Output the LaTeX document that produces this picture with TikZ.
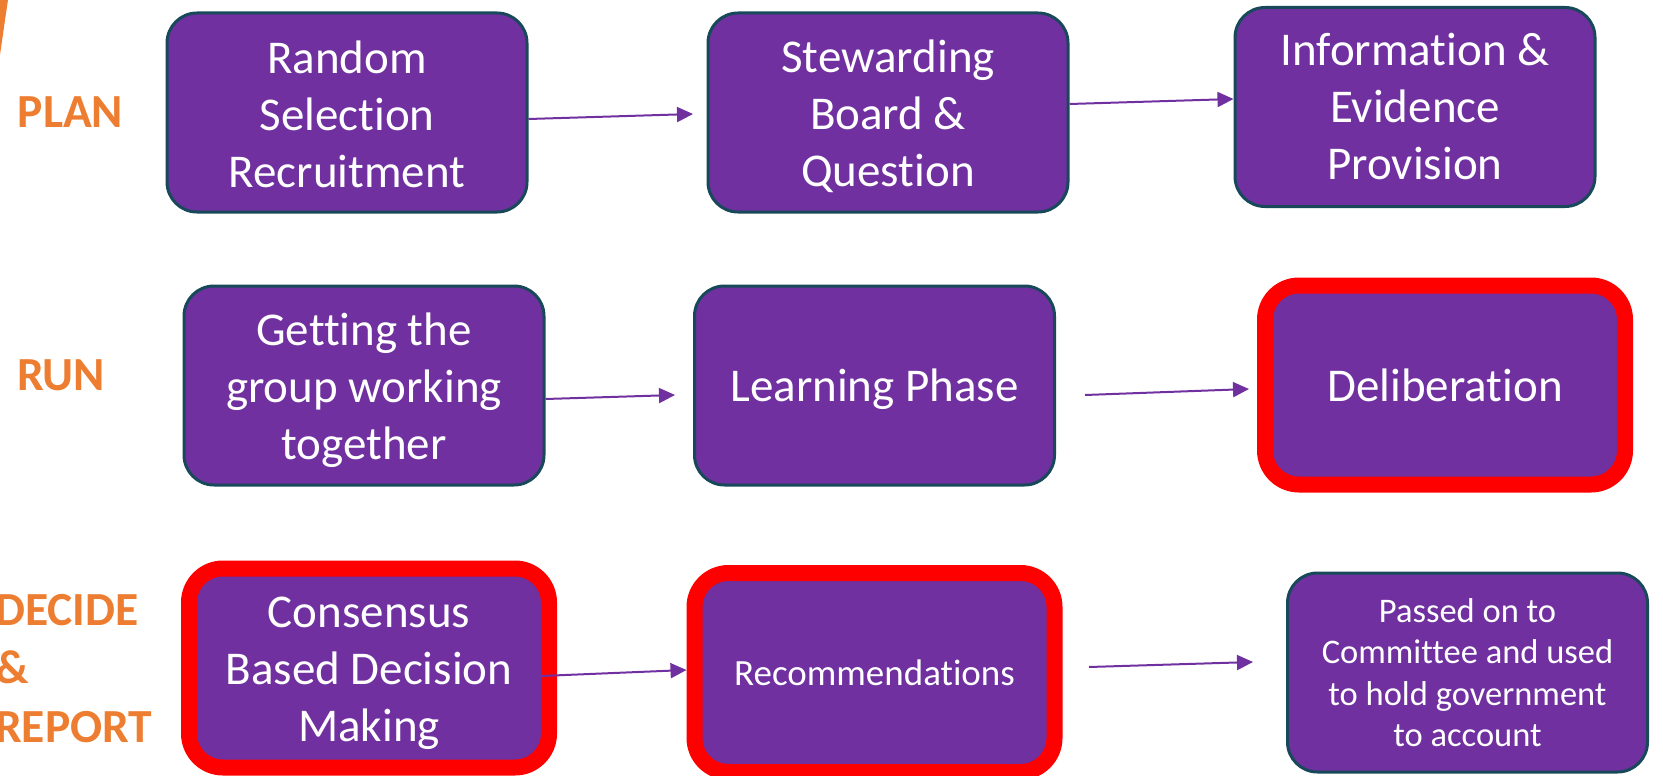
\documentclass[tikz,border=0pt]{standalone}
\usepackage{fontspec}
\setmainfont{Carlito}[Ligatures=NoCommon]
\usetikzlibrary{arrows.meta}
\definecolor{boxpurple}{HTML}{7030A0}
\definecolor{boxteal}{HTML}{18495A}
\definecolor{lblorange}{HTML}{ED7D31}
\definecolor{hired}{HTML}{FF0000}
\newcommand{\tallfirst}[1]{\rule{0pt}{#1pt}}
\tikzset{
  stagebox/.style={rectangle, rounded corners=30pt, fill=boxpurple, draw=boxteal, line width=3pt,
    minimum width=360pt, minimum height=199pt, align=center, text=white, inner sep=0pt,
    font=\fontsize{47}{57}\selectfont},
  keybox/.style={stagebox, draw=hired, line width=16pt, rounded corners=34pt},
  smalltext/.style={font=\fontsize{34.5}{41.3}\selectfont},
  midtext/.style={font=\fontsize{37}{45}\selectfont},
  phase/.style={text=lblorange, font=\fontsize{47.5}{58.5}\selectfont\bfseries, inner sep=0pt},
  flow/.style={draw=boxpurple, line width=2pt, -{Triangle[length=16pt,width=15pt]}}
}
\begin{document}
\begin{tikzpicture}[x=1pt,y=-1pt]
\useasboundingbox (0,0) rectangle (1663,776);
% orange arc fragment
\fill[lblorange] (0,0) -- (8,0) .. controls (5,20) .. (0,55) -- cycle;
% phase labels
\node[phase, anchor=base] (plan) at (70.5,128) {PLAN};
\node[phase, anchor=base] (run) at (61,390) {RUN};
\node[phase, anchor=base west, align=left] (decide) at (-5,742) {DECIDE\\\&\\REPORT};
% row 1
\node[stagebox] (rsr) at (347,112.5) {\tallfirst{37}Random\\Selection\\Recruitment};
\node[stagebox] (sbq) at (888,112.5) {\tallfirst{40}Stewarding\\Board \&\\Question};
\node[stagebox] (iep) at (1415,107) {Information \&\\Evidence\\Provision};
% row 2
\node[stagebox] (ggw) at (364,385.5) {\tallfirst{43}Getting the\\group working\\together};
\node[stagebox, text depth=0pt] (lp) at (874.5,385.5) {Learning Phase};
\node[keybox] (del) at (1445,385) {Deliberation};
% row 3
\node[keybox] (cbd) at (369,668) {\tallfirst{41}Consensus\\Based Decision\\Making};
\node[keybox, midtext] (rec) at (874.5,672.5) {Recommendations};
\node[stagebox, smalltext] (pass) at (1467.5,672.5) {Passed on to\\Committee and used\\to hold government\\to account};
% free ends
\coordinate (e1) at (693,114);
\coordinate (e3) at (675,395);
\coordinate (s4) at (1085,395);
\coordinate (e4) at (1249,389);
\coordinate (s5) at (541,676);
\coordinate (s6) at (1089,667);
\coordinate (e6) at (1253,662);
% connectors
\draw[flow] ([yshift=-6.5pt]rsr.east) -- (e1);
\draw[flow] ([yshift=8.5pt]sbq.east) -- ([yshift=8pt]iep.west);
\draw[flow] ([yshift=-13.5pt]ggw.east) -- (e3);
\draw[flow] (s4) -- (e4);
\draw[flow] (s5) -- ([yshift=2.5pt]rec.west);
\draw[flow] (s6) -- (e6);
\end{tikzpicture}
\end{document}
